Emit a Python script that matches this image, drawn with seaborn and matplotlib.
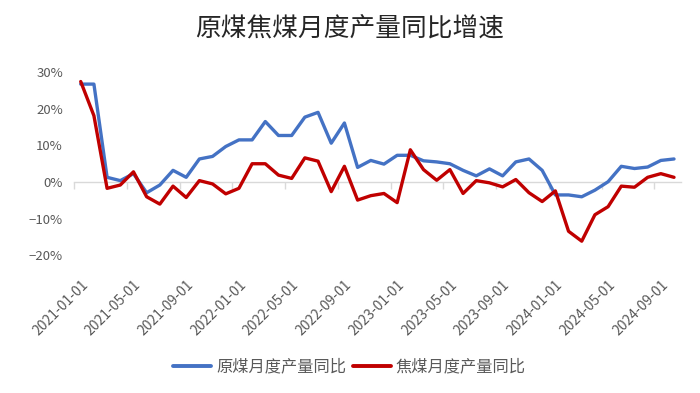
import numpy as np
import pandas as pd
import matplotlib
matplotlib.use("Agg")
import matplotlib.pyplot as plt
import seaborn as sns

# monthly year-on-year growth, %, 2021-01 .. 2024-10
months = pd.date_range("2021-01-01", periods=46, freq="MS").strftime("%Y-%m-%d").tolist()
raw_coal = [26.7, 26.7, 1.3, 0.4, 2.3, -2.9, -0.8, 3.2, 1.3, 6.3,
            7.0, 9.7, 11.5, 11.5, 16.5, 12.7, 12.7, 17.7, 19.0, 10.6,
            16.1, 4.0, 5.9, 4.9, 7.3, 7.3, 5.8, 5.5, 5.0, 3.2,
            1.7, 3.6, 1.7, 5.5, 6.3, 3.2, -3.5, -3.5, -4.0, -2.2,
            0.1, 4.3, 3.7, 4.1, 5.9, 6.3]
coking_coal = [27.4, 18.1, -1.7, -0.8, 2.8, -4.0, -6.0, -1.1, -4.2, 0.4,
               -0.5, -3.2, -1.7, 5.0, 5.0, 1.9, 1.0, 6.6, 5.7, -2.6,
               4.3, -4.9, -3.7, -3.1, -5.6, 8.8, 3.4, 0.5, 3.4, -3.1,
               0.4, -0.2, -1.3, 0.7, -2.9, -5.3, -2.4, -13.4, -16.1, -8.9,
               -6.7, -1.1, -1.4, 1.3, 2.3, 1.3]
series_names = ["原煤月度产量同比", "焦煤月度产量同比"]
colors = ["#4472C4", "#C00000"]

df = pd.DataFrame({
    "pos": list(range(len(months))) * 2,
    "value": raw_coal + coking_coal,
    "series": [series_names[0]] * len(months) + [series_names[1]] * len(months),
})

sns.set_style("white")
plt.rcParams["font.family"] = ["Noto Sans CJK SC", "DejaVu Sans"]

fig = plt.figure(figsize=(7, 3.93), dpi=100)
ax = fig.add_axes([0.1059, 0.3499, 0.8664, 0.4669])

sns.lineplot(data=df, x="pos", y="value", hue="series", palette=colors,
             linewidth=2.4, ax=ax, legend=False)

ymin, ymax = -20, 30
ax.set_ylim(ymin, ymax)
ax.set_xlim(-0.5, len(months) - 0.5)
for s in ax.spines.values():
    s.set_visible(False)

ax.set_yticks(np.arange(-20, 31, 10))
ax.yaxis.set_major_formatter(matplotlib.ticker.StrMethodFormatter("{x:.0f}%"))
ax.tick_params(axis="y", length=0, pad=8, labelsize=9.5, labelcolor="#595959")

tick_idx = list(range(0, len(months), 4))
ax.set_xticks(tick_idx)
ax.set_xticklabels([months[i] for i in tick_idx], rotation=45, ha="right",
                   va="top", rotation_mode="anchor")
ax.tick_params(axis="x", length=0, pad=16, labelsize=10, labelcolor="#595959")
ax.set_xlabel("")
ax.set_ylabel("")

# zero line with tick marks between categories
zero_axis = ax.secondary_xaxis((0 - ymin) / (ymax - ymin))
zero_axis.set_xticks(np.arange(-0.5, len(months) - 1, 4), labels=[])
zero_axis.tick_params(length=5, width=1, color="#D9D9D9", direction="out")
for s in zero_axis.spines.values():
    s.set_color("#D9D9D9")
    s.set_linewidth(1)

fig.text(0.5, 0.924, "原煤焦煤月度产量同比增速", ha="center", va="center",
         fontsize=18.5, color="#262626")

handles = [plt.Line2D([], [], color=c, linewidth=2.8) for c in colors]
fig.legend(handles, series_names, loc="center", bbox_to_anchor=(0.499, 0.066),
           ncol=2, frameon=False, fontsize=11.7, labelcolor="#595959",
           handlelength=2.35, handletextpad=0.3, columnspacing=0.4)

fig.savefig("out.png", dpi=100)
